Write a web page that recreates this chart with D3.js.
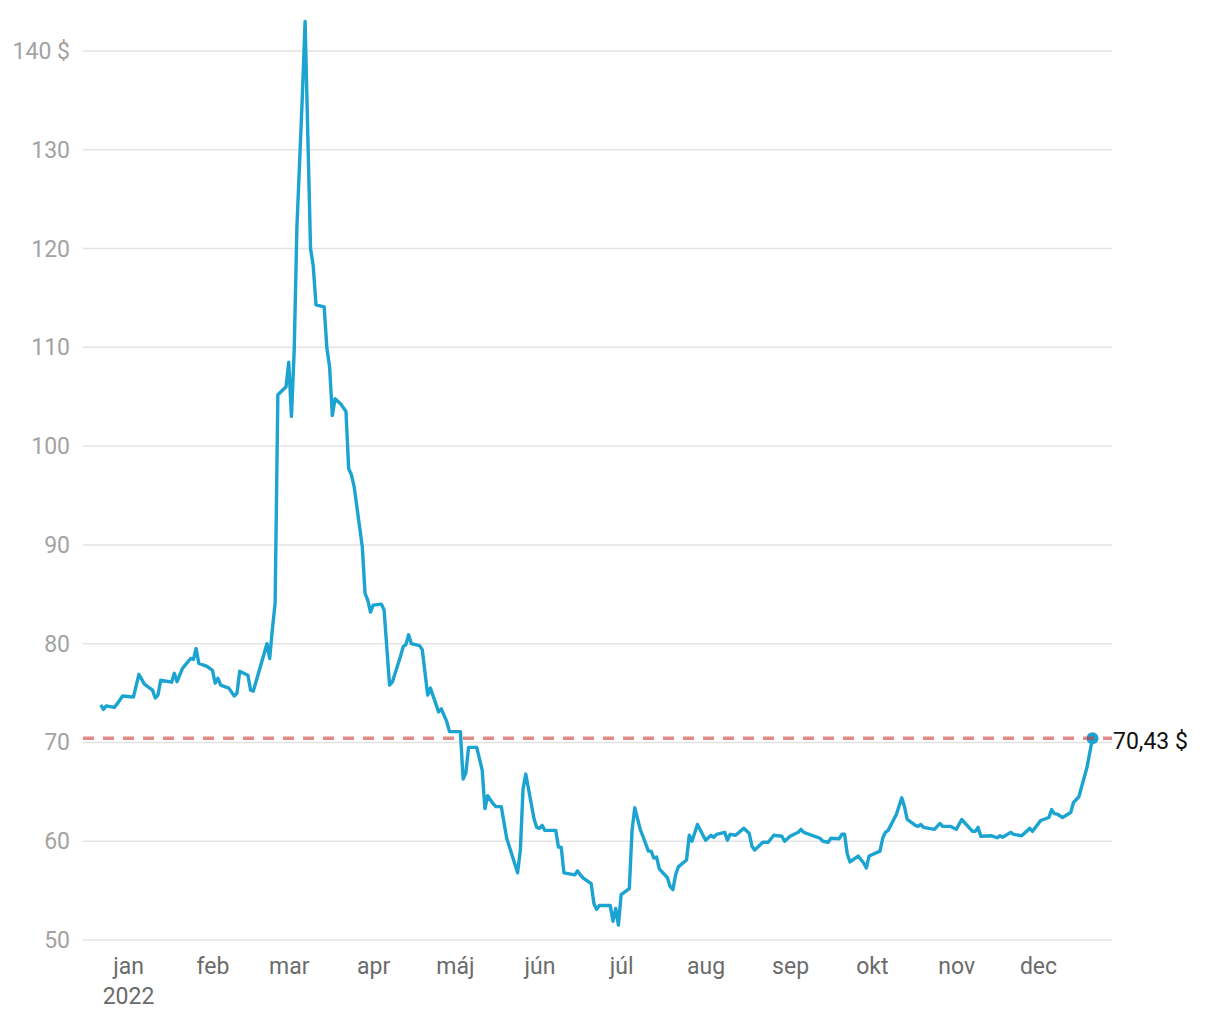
<!DOCTYPE html>
<html><head><meta charset="utf-8">
<script src="https://cdn.jsdelivr.net/npm/d3@7"></script>
<style>
html,body{margin:0;padding:0;background:#fff;}
text{font-family:Roboto,"Noto Sans",sans-serif;}
</style></head>
<body><svg id="c" width="1220" height="1020"></svg>
<script>
const dates = ["2021-12-22","2021-12-23","2021-12-24","2021-12-27","2021-12-28","2021-12-30",
"2022-01-03","2022-01-05","2022-01-07","2022-01-10","2022-01-11","2022-01-12","2022-01-13","2022-01-17","2022-01-18","2022-01-19","2022-01-21","2022-01-24","2022-01-25","2022-01-26","2022-01-27","2022-01-30",
"2022-02-01","2022-02-02","2022-02-03","2022-02-04","2022-02-06","2022-02-07","2022-02-09","2022-02-10","2022-02-11","2022-02-14","2022-02-15","2022-02-16","2022-02-21","2022-02-22","2022-02-23","2022-02-24","2022-02-25","2022-02-28",
"2022-03-01","2022-03-02","2022-03-03","2022-03-04","2022-03-06","2022-03-07","2022-03-09","2022-03-10","2022-03-11","2022-03-14","2022-03-15","2022-03-16","2022-03-17","2022-03-18","2022-03-20","2022-03-22","2022-03-23","2022-03-24","2022-03-25","2022-03-28","2022-03-29","2022-03-30","2022-03-31",
"2022-04-01","2022-04-04","2022-04-05","2022-04-07","2022-04-08","2022-04-11","2022-04-12","2022-04-13","2022-04-14","2022-04-15","2022-04-18","2022-04-19","2022-04-21","2022-04-22","2022-04-25","2022-04-26","2022-04-28","2022-04-29",
"2022-05-03","2022-05-04","2022-05-05","2022-05-06","2022-05-09","2022-05-11","2022-05-12","2022-05-13","2022-05-15","2022-05-16","2022-05-18","2022-05-20","2022-05-24","2022-05-25","2022-05-26","2022-05-27","2022-05-30","2022-05-31",
"2022-06-01","2022-06-02","2022-06-03","2022-06-07","2022-06-08","2022-06-09","2022-06-10","2022-06-14","2022-06-15","2022-06-16","2022-06-17","2022-06-20","2022-06-21","2022-06-22","2022-06-23","2022-06-27","2022-06-28","2022-06-29","2022-06-30",
"2022-07-01","2022-07-04","2022-07-05","2022-07-06","2022-07-08","2022-07-09","2022-07-11","2022-07-12","2022-07-13","2022-07-14","2022-07-15","2022-07-18","2022-07-19","2022-07-20","2022-07-21","2022-07-22","2022-07-25","2022-07-26","2022-07-27","2022-07-29",
"2022-08-01","2022-08-03","2022-08-04","2022-08-05","2022-08-08","2022-08-09","2022-08-10","2022-08-12","2022-08-15","2022-08-17","2022-08-18","2022-08-19","2022-08-22","2022-08-24","2022-08-26","2022-08-29","2022-08-30",
"2022-09-01","2022-09-04","2022-09-05","2022-09-06","2022-09-12","2022-09-13","2022-09-15","2022-09-16","2022-09-19","2022-09-20","2022-09-21","2022-09-22","2022-09-23","2022-09-26","2022-09-28","2022-09-29","2022-09-30",
"2022-10-04","2022-10-05","2022-10-06","2022-10-07","2022-10-10","2022-10-12","2022-10-13","2022-10-14","2022-10-17","2022-10-18","2022-10-19","2022-10-20","2022-10-24","2022-10-26","2022-10-27","2022-10-30",
"2022-11-01","2022-11-03","2022-11-07","2022-11-08","2022-11-09","2022-11-10","2022-11-14","2022-11-16","2022-11-17","2022-11-18","2022-11-21","2022-11-22","2022-11-25","2022-11-28","2022-11-29",
"2022-12-02","2022-12-05","2022-12-06","2022-12-07","2022-12-08","2022-12-10","2022-12-13","2022-12-14","2022-12-16","2022-12-19","2022-12-21"];
const prices = [73.8,73.35,73.7,73.55,73.9,74.7,
74.6,76.9,75.9,75.3,74.5,74.8,76.3,76.1,77.0,76.15,77.5,78.5,78.4,79.5,78.0,77.7,
77.3,76.0,76.5,75.8,75.6,75.5,74.7,75.0,77.2,76.8,75.3,75.2,80.0,78.5,81.5,84.1,105.2,106.0,
108.5,103.0,109.7,122.2,135.5,143.0,120.0,118.2,114.3,114.1,109.9,108.0,103.1,104.8,104.3,103.5,97.7,97.1,95.9,89.8,85.1,84.4,83.2,
83.9,84.0,83.4,75.8,76.1,78.7,79.7,79.9,80.9,80.0,79.8,79.4,74.8,75.5,73.1,73.4,72.1,71.1,
71.1,66.3,66.9,69.5,69.5,67.2,63.3,64.6,63.8,63.5,63.5,60.3,56.8,59.1,65.3,66.8,62.3,61.4,
61.3,61.6,61.1,61.1,59.4,59.4,56.8,56.6,57.0,56.6,56.3,55.7,53.7,53.1,53.5,53.5,51.9,53.2,51.5,
54.6,55.2,61.1,63.4,61.2,60.5,59.0,59.0,58.3,58.4,57.2,56.3,55.4,55.1,56.6,57.4,58.1,60.6,60.0,61.7,
60.1,60.6,60.4,60.7,60.9,60.1,60.7,60.6,61.3,60.8,59.5,59.1,59.9,59.9,60.6,60.5,60.0,
60.5,60.9,61.2,60.9,60.3,60.0,59.9,60.3,60.25,60.7,60.7,58.7,57.9,58.5,57.8,57.3,58.5,
59.0,60.3,60.9,61.1,62.7,64.4,63.5,62.2,61.6,61.5,61.7,61.4,61.2,61.8,61.5,61.5,
61.2,62.2,61.0,61.0,61.4,60.5,60.55,60.35,60.55,60.4,60.9,60.7,60.55,61.3,61.0,
62.1,62.4,63.2,62.8,62.75,62.4,62.9,63.9,64.5,67.5,70.43];
const yTicks = [50,60,70,80,90,100,110,120,130,140];
const monthNames = ["jan","feb","mar","apr","máj","jún","júl","aug","sep","okt","nov","dec"];
const yearLabel = "2022";
const lastLabel = "70,43 $";

const parse = d3.timeParse("%Y-%m-%d");
const data = dates.map((d,i)=>({date:parse(d), value:prices[i]}));
const last = data[data.length-1];

const svg = d3.select("#c");
const gridX0 = 83, gridX1 = 1112;
const x = d3.scaleTime().domain([new Date(2022,0,1), new Date(2022,11,1)]).range([128,1038]);
const y = d3.scaleLinear().domain([50,140]).range([940,51]);

// grid
svg.append("g").selectAll("line").data(yTicks).join("line")
  .attr("x1",gridX0).attr("x2",gridX1)
  .attr("y1",d=>y(d)).attr("y2",d=>y(d))
  .attr("stroke","#e3e3e3").attr("stroke-width",1.5);

// y labels
svg.append("g").selectAll("text").data(yTicks).join("text")
  .attr("x",70).attr("y",d=>y(d)).attr("dy","0.35em")
  .attr("text-anchor","end").attr("font-size",23).attr("fill","#a3a3a3")
  .text(d=> d===140 ? d+" $" : d);

// x axis
const xAxis = d3.axisBottom(x).ticks(d3.timeMonth.every(1)).tickSize(0).tickPadding(0)
  .tickFormat(d=>monthNames[d.getMonth()]);
const gx = svg.append("g").attr("transform","translate(0,958)").call(xAxis);
gx.select(".domain").remove();
gx.selectAll("text").attr("font-size",23).attr("fill","#6b6b6b").attr("font-family","Roboto, sans-serif").attr("dy","0.71em");
gx.selectAll(".tick").filter(d=>d.getMonth()===0).append("text")
  .attr("y",0).attr("dy","2.0em").attr("text-anchor","middle")
  .attr("font-size",23).attr("fill","#6b6b6b").attr("font-family","Roboto, sans-serif")
  .text(yearLabel);

// line
const line = d3.line().x(d=>x(d.date)).y(d=>y(d.value));
svg.append("path").datum(data).attr("d",line)
  .attr("fill","none").attr("stroke","#1ba3d1").attr("stroke-width",3.4)
  .attr("stroke-linejoin","round");

// end dot
svg.append("circle").attr("cx",x(last.date)).attr("cy",y(last.value)).attr("r",6).attr("fill","#1ba3d1");

// reference dashed line
svg.append("line").attr("x1",gridX0).attr("x2",gridX1)
  .attr("y1",y(last.value)).attr("y2",y(last.value))
  .attr("stroke","rgba(205,60,55,0.6)").attr("stroke-width",3.5).attr("stroke-dasharray","11,9");

svg.append("text").attr("x",1113).attr("y",y(last.value)+3).attr("dy","0.35em")
  .attr("font-size",23).attr("fill","#111").text(lastLabel);
</script></body></html>
